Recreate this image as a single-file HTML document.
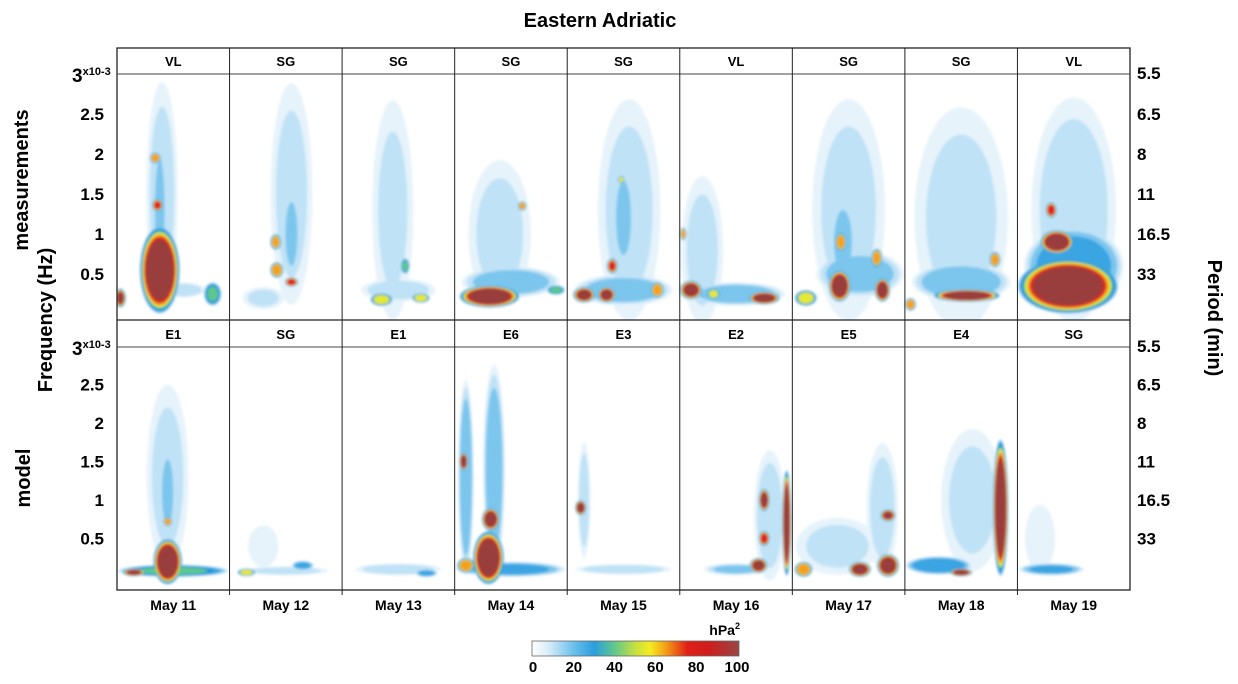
<!DOCTYPE html>
<html><head><meta charset="utf-8"><style>
body{margin:0;background:#fff;}
svg{display:block;font-family:"Liberation Sans",sans-serif;}
.b{font-weight:bold;}
</style></head><body>
<svg id="chart" width="1238" height="684" viewBox="0 0 1238 684">
<defs>
<filter id="blur" x="-20%" y="-20%" width="140%" height="140%"><feGaussianBlur stdDeviation="1.4"/></filter>
<clipPath id="clipTop"><rect x="117" y="74" width="1013" height="246"/></clipPath>
<clipPath id="clipBot"><rect x="117" y="347" width="1013" height="243"/></clipPath>
<linearGradient id="cbar" x1="0" x2="1" y1="0" y2="0">
<stop offset="0" stop-color="#ffffff"/><stop offset="0.08" stop-color="#d8ecf8"/>
<stop offset="0.2" stop-color="#6cc0ec"/><stop offset="0.3" stop-color="#2a9ede"/>
<stop offset="0.4" stop-color="#62c88c"/><stop offset="0.5" stop-color="#c8e040"/>
<stop offset="0.57" stop-color="#f4ec20"/><stop offset="0.65" stop-color="#f49a18"/>
<stop offset="0.75" stop-color="#e02018"/><stop offset="0.85" stop-color="#d01c1c"/>
<stop offset="1" stop-color="#974646"/>
</linearGradient>
</defs>
<text x="600" y="27" text-anchor="middle" class="b" font-size="20">Eastern Adriatic</text>
<g id="heatTop" clip-path="url(#clipTop)" filter="url(#blur)"></g>
<g id="heatBot" clip-path="url(#clipBot)" filter="url(#blur)"></g>
<g id="frame"></g>
<g id="axes"></g>
<text transform="translate(28,180) rotate(-90)" text-anchor="middle" class="b" font-size="20">measurements</text>
<text transform="translate(52,320) rotate(-90)" text-anchor="middle" class="b" font-size="20">Frequency (Hz)</text>
<text transform="translate(30,478) rotate(-90)" text-anchor="middle" class="b" font-size="20">model</text>
<text transform="translate(1208,318) rotate(90)" text-anchor="middle" class="b" font-size="20">Period (min)</text>
<g>
<rect x="532" y="641" width="207" height="15" fill="url(#cbar)" stroke="#666" stroke-width="0.8"/>
<text x="740" y="635" text-anchor="end" class="b" font-size="14">hPa<tspan font-size="9" dy="-6">2</tspan></text>
<g id="cbticks"></g>
</g>
</svg>
<script>
const days = ["May 11","May 12","May 13","May 14","May 15","May 16","May 17","May 18","May 19"];
const topLabels = ["VL","SG","SG","SG","SG","VL","SG","SG","VL"];
const botLabels = ["E1","SG","E1","E6","E3","E2","E5","E4","SG"];
const freqTicks = [0.5,1,1.5,2,2.5];
const periodTicks = ["33","16.5","11","8","6.5","5.5"];
const periodFreqs = [0.5,1,1.5,2,2.5,3];
const cbTicks = [0,20,40,60,80,100];
// blobs: [day position, frequency (x1e-3 Hz), half-width (days), half-height (freq), power level]
const topBlobs = [
[0.40,1.5,0.15,1.5,13],[0.38,1.3,0.06,0.9,20],[0.38,0.55,0.18,0.55,100],[0.34,1.95,0.05,0.07,70],[0.36,1.36,0.05,0.08,78],
[0.03,0.2,0.05,0.12,85],[0.85,0.25,0.08,0.15,45],[0.6,0.3,0.2,0.1,14],
[1.55,1.5,0.2,1.5,12],[1.55,1.0,0.08,0.6,18],[1.41,0.9,0.05,0.1,65],[1.42,0.55,0.06,0.1,72],[1.55,0.4,0.06,0.06,82],[1.3,0.2,0.2,0.15,12],
[2.45,1.3,0.2,1.5,11],[2.35,0.18,0.1,0.08,62],[2.7,0.2,0.08,0.06,62],[2.56,0.6,0.04,0.1,48],[2.5,0.3,0.35,0.15,15],
[3.31,0.22,0.27,0.14,100],[3.4,1.0,0.3,1.0,12],[3.6,1.35,0.04,0.06,65],[3.5,0.4,0.45,0.2,22],[3.9,0.3,0.08,0.06,50],
[4.55,1.3,0.3,1.5,12],[4.5,1.2,0.1,0.7,18],[4.15,0.24,0.1,0.1,88],[4.35,0.24,0.08,0.1,92],[4.4,0.6,0.05,0.1,75],[4.48,1.68,0.03,0.05,60],[4.8,0.3,0.06,0.1,70],[4.5,0.3,0.45,0.2,22],
[5.2,0.8,0.2,1.0,12],[5.1,0.3,0.1,0.12,92],[5.3,0.25,0.06,0.07,60],[5.75,0.2,0.14,0.08,95],[5.5,0.25,0.45,0.15,22],[5.03,1.0,0.03,0.08,65],
[6.5,1.3,0.35,1.5,12],[6.45,0.9,0.12,0.6,18],[6.42,0.35,0.1,0.2,100],[6.8,0.3,0.07,0.15,95],[6.43,0.9,0.05,0.12,72],[6.12,0.2,0.1,0.1,60],[6.6,0.5,0.4,0.3,22],[6.75,0.7,0.05,0.12,70],
[7.5,1.2,0.45,1.5,12],[7.55,0.23,0.3,0.08,95],[7.8,0.68,0.05,0.1,72],[7.05,0.12,0.05,0.08,70],[7.5,0.4,0.45,0.25,24],
[8.5,1.3,0.4,1.5,14],[8.45,0.35,0.45,0.35,100],[8.35,0.9,0.15,0.15,100],[8.3,1.3,0.05,0.1,82],[8.5,0.6,0.45,0.5,32]
];
const botBlobs = [
[0.45,1.3,0.2,1.3,12],[0.45,1.1,0.07,0.6,20],[0.45,0.2,0.13,0.3,100],[0.5,0.08,0.5,0.08,45],[0.45,0.72,0.04,0.06,72],[0.15,0.06,0.1,0.05,88],
[1.15,0.06,0.08,0.05,62],[1.3,0.4,0.15,0.3,10],[1.65,0.15,0.1,0.06,30],[1.5,0.08,0.4,0.06,15],
[2.5,0.1,0.4,0.08,16],[2.75,0.05,0.1,0.05,30],
[3.3,0.25,0.14,0.35,100],[3.32,0.75,0.08,0.15,95],[3.08,1.5,0.04,0.12,92],[3.1,1.3,0.07,1.3,24],[3.35,1.4,0.1,1.4,22],[3.5,0.1,0.5,0.1,28],[3.1,0.15,0.08,0.1,70],
[4.12,0.9,0.05,0.1,90],[4.15,1.0,0.06,0.8,14],[4.5,0.1,0.45,0.07,16],
[5.75,1.0,0.05,0.15,90],[5.75,0.5,0.05,0.1,80],[5.7,0.15,0.08,0.1,92],[5.95,0.7,0.04,0.7,100],[5.8,0.8,0.15,0.9,14],[5.5,0.1,0.3,0.08,18],
[6.6,0.1,0.1,0.1,95],[6.85,0.8,0.07,0.08,85],[6.85,0.15,0.1,0.15,100],[6.1,0.1,0.08,0.1,72],[6.8,0.9,0.15,0.9,13],[6.4,0.4,0.4,0.4,12],
[7.85,0.9,0.07,0.9,100],[7.5,0.06,0.1,0.05,95],[7.6,1.0,0.3,1.0,12],[7.3,0.15,0.3,0.12,36],
[8.3,0.1,0.3,0.08,26],[8.2,0.5,0.15,0.5,9]
];
const NS='http://www.w3.org/2000/svg';
const X0=117,X1=1130;
function xScale(d){return X0+d*(X1-X0)/9;}
function yTop(f){return 314-f*80;}
function yBot(f){return 577-f*77;}
const layers=[[4,'#e6f3fb'],[10,'#c0e2f6'],[16,'#7cc6ee'],[24,'#3aa4e2'],[36,'#1e90d6'],[44,'#5cc890'],[52,'#e6e830'],[62,'#f5a01c'],[72,'#e02020'],[84,'#9a3c3c']];
function mk(tag,attrs,parent){const e=document.createElementNS(NS,tag);for(const k in attrs)e.setAttribute(k,attrs[k]);parent.appendChild(e);return e;}
function drawBlobs(blobs,g,ys,fs){
  layers.forEach(([t,c])=>{
    blobs.forEach(b=>{
      const [d,f,dx,df,lv]=b;
      if(lv<=t)return;
      const k=1-0.4*Math.pow(t/lv,1.5);
      const e=mk('ellipse',{cx:xScale(d),cy:ys(f),rx:dx*(X1-X0)/9*k,ry:df*fs*k,fill:c},g);
      
      
    });
  });
}
drawBlobs(topBlobs,document.getElementById('heatTop'),yTop,80);
drawBlobs(botBlobs,document.getElementById('heatBot'),yBot,77);
const fr=document.getElementById('frame');
mk('rect',{x:117,y:48,width:1013,height:542,fill:'none',stroke:'#222','stroke-width':1.3},fr);
mk('line',{x1:117,x2:1130,y1:320,y2:320,stroke:'#222','stroke-width':1.3},fr);
mk('line',{x1:117,x2:1130,y1:74,y2:74,stroke:'#444','stroke-width':1},fr);
mk('line',{x1:117,x2:1130,y1:347,y2:347,stroke:'#444','stroke-width':1},fr);
for(let i=1;i<9;i++){
  const l=mk('line',{x1:xScale(i),x2:xScale(i),y1:48,y2:595,stroke:'#222','stroke-width':1},fr);
  
  
}
const ax=document.getElementById('axes');
days.forEach((d,i)=>{
  const t=mk('text',{x:xScale(i+0.5),y:610,'text-anchor':'middle','font-size':14,'class':'b'},ax);t.textContent=d;
  
  
  const a=mk('text',{x:xScale(i+0.5),y:66,'text-anchor':'middle','font-size':13,'class':'b'},ax);a.textContent=topLabels[i];
  
  
  const b=mk('text',{x:xScale(i+0.5),y:339,'text-anchor':'middle','font-size':13,'class':'b'},ax);b.textContent=botLabels[i];
  
  
});
[[yTop,74],[yBot,347]].forEach(([ys,top])=>{
  freqTicks.forEach(f=>{
    const t=mk('text',{x:104,y:ys(f)+6,'text-anchor':'end','font-size':17,'class':'b'},ax);t.textContent=String(f);
    
    
  });
  const t3=mk('text',{x:72,y:top+8,'font-size':19,'class':'b'},ax);t3.innerHTML='3<tspan font-size="11" dy="-7">x10-3</tspan>';
  
  
  periodTicks.forEach((p,i)=>{
    const y=i===5?top+5:ys(periodFreqs[i])+6;
    const t=mk('text',{x:1137,y:y,'font-size':17,'class':'b'},ax);t.textContent=p;
    
    
  });
});
const cb=document.getElementById('cbticks');
cbTicks.forEach(v=>{
  const x=533+v/100*204;
  const t=mk('text',{x:x,y:672,'text-anchor':'middle','font-size':15,'class':'b'},cb);t.textContent=String(v);
  
  
});
</script>
</body></html>
